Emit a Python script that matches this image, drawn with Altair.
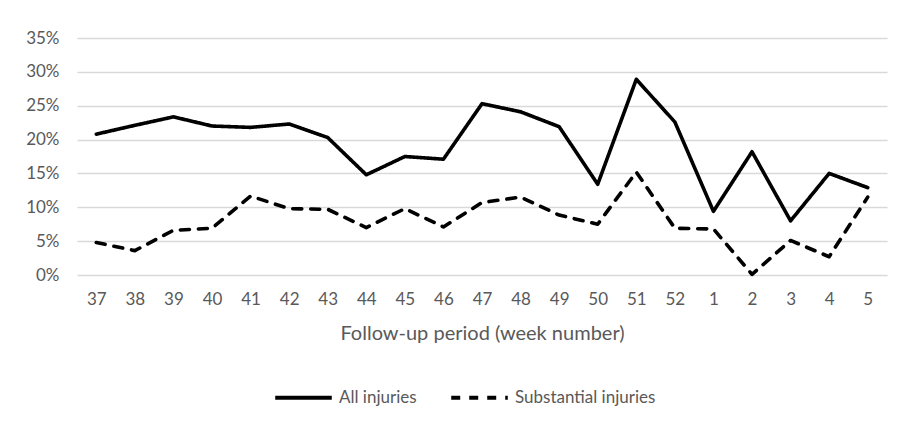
import altair as alt
import pandas as pd

weeks = ["37", "38", "39", "40", "41", "42", "43", "44", "45", "46", "47",
         "48", "49", "50", "51", "52", "1", "2", "3", "4", "5"]
all_injuries = [20.8, 22.1, 23.35, 22.0, 21.8, 22.3, 20.3, 14.8, 17.5, 17.1, 25.3,
                24.1, 21.9, 13.4, 28.9, 22.6, 9.4, 18.2, 8.0, 15.0, 12.9]
substantial = [4.8, 3.6, 6.6, 6.9, 11.65, 9.8, 9.7, 7.0, 9.8, 7.1, 10.7,
               11.5, 8.85, 7.5, 15.2, 6.9, 6.8, 0.1, 5.1, 2.7, 11.5]
series_names = ["All injuries", "Substantial injuries"]
y_ticks = [0, 0.05, 0.10, 0.15, 0.20, 0.25, 0.30, 0.35]

rows = []
for name, vals in zip(series_names, [all_injuries, substantial]):
    for w, v in zip(weeks, vals):
        rows.append({"week": w, "value": v / 100.0, "series": name})
df = pd.DataFrame(rows)

FONT = "Lato"
GRAY = "#595959"

chart = alt.Chart(df).mark_line(
    strokeWidth=3.6, strokeJoin="round", strokeCap="round", color="black"
).encode(
    x=alt.X("week:O", sort=weeks,
            scale=alt.Scale(paddingOuter=0.5),
            axis=alt.Axis(title="Follow-up period (week number)", labelAngle=0,
                          domain=False, ticks=False, grid=False,
                          labelPadding=16, titlePadding=16,
                          labelFont=FONT, labelFontSize=17, labelColor=GRAY,
                          titleFont=FONT, titleFontSize=20, titleColor=GRAY,
                          titleFontWeight="normal")),
    y=alt.Y("value:Q", scale=alt.Scale(domain=[0, 0.35], nice=False),
            axis=alt.Axis(title=None, format=".0%", values=y_ticks,
                          domain=False, ticks=False, grid=True,
                          gridColor="#d9d9d9", gridWidth=1.3,
                          labelPadding=18, labelFont=FONT, labelFontSize=17,
                          labelColor=GRAY)),
    strokeDash=alt.StrokeDash(
        "series:N",
        scale=alt.Scale(domain=series_names, range=[[1, 0], [9, 9]]),
        legend=alt.Legend(title=None, orient="none", direction="horizontal",
                          legendX=196, legendY=329,
                          symbolType="stroke", symbolSize=3200,
                          symbolStrokeWidth=4, symbolStrokeColor="black",
                          labelFont=FONT, labelFontSize=17, labelColor=GRAY,
                          labelOffset=5, columnPadding=26)),
).properties(
    width=810, height=237,
    autosize=alt.AutoSizeParams(type="none"),
    padding={"left": 69, "top": 30, "right": 20, "bottom": 141},
).configure(background="white").configure_view(strokeWidth=0, stroke="transparent")

chart.save("out.html", embed_options={"renderer": "svg", "actions": False})
